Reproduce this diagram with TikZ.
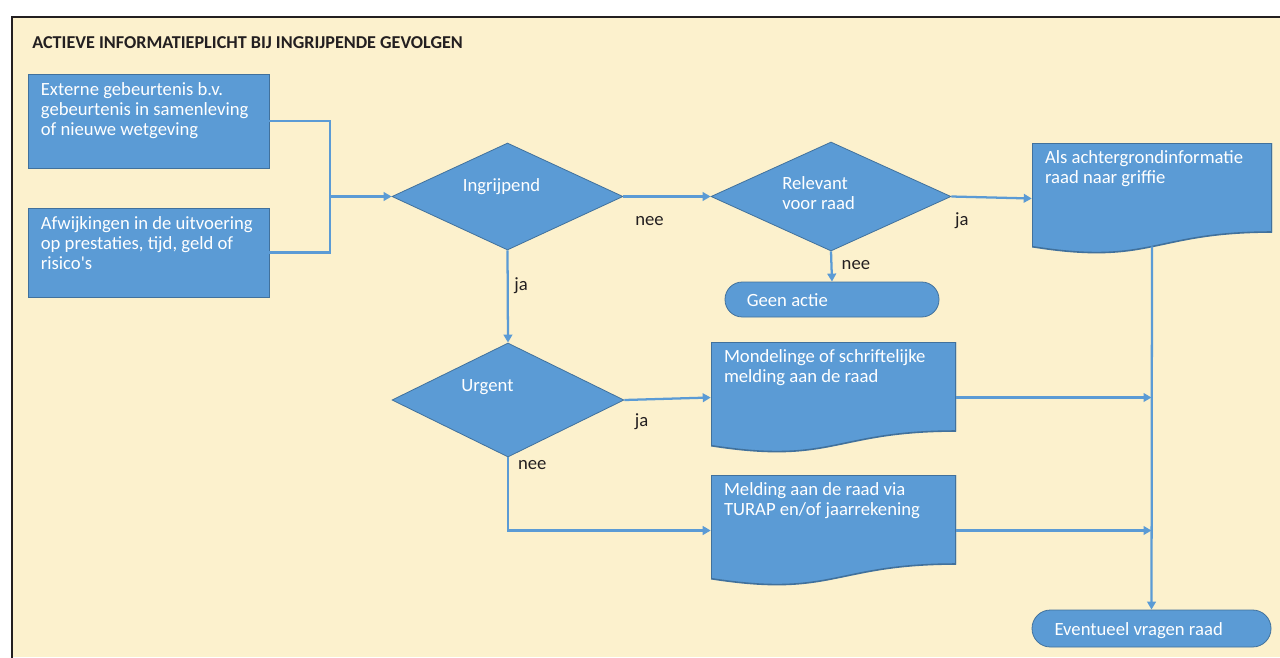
\documentclass[tikz,border=0pt]{standalone}
\usepackage{fontspec}
\setmainfont{Carlito}
\usepackage{tikz}
\usetikzlibrary{calc,arrows.meta,shapes.geometric}
\definecolor{cream}{HTML}{FCF1CD}
\definecolor{boxblue}{HTML}{5B9BD5}
\definecolor{boxedge}{HTML}{41719C}
\definecolor{ink}{HTML}{231F20}

\begin{document}
\begin{tikzpicture}[x=0.75pt,y=-0.75pt,>={Triangle[length=6pt,width=6.5pt]},
  shapebase/.style={fill=boxblue,draw=boxedge,line width=0.6pt,inner sep=0pt},
  proc/.style={shapebase,rectangle,minimum width=180.75pt},
  decision/.style={shapebase,diamond},
  terminal/.style={shapebase,rectangle,rounded corners=13pt},
  doc/.style={rectangle,inner sep=0pt,minimum width=#1,minimum height=83.25pt,
    path picture={
      \path (path picture bounding box.north west) coordinate (nw)
            (path picture bounding box.north east) coordinate (ne)
            (path picture bounding box.south west) coordinate (sw)
            (path picture bounding box.south east) coordinate (se)
            (path picture bounding box.north) coordinate (n)
            (path picture bounding box.south) coordinate (s);
      \draw[fill=boxblue,draw=boxedge,line width=1.2pt] (nw) -- (ne) -- ($(ne)!0.802!(se)$)
        .. controls ($(n)!0.802!(s)$) and ($(n)!1.1075!(s)$) .. ($(nw)!0.934!(sw)$) -- cycle;}},
  intext/.style={text=white,font=\fontsize{14}{14.8}\selectfont,align=flush left,inner sep=0pt,
    text height=10pt,text depth=0pt,execute at begin node={\spaceskip=0pt\xspaceskip=0pt}},
  topleft/.style={intext,text width=200pt,anchor=north west,xshift=9.75pt,yshift=#1},
  flow/.style={boxblue,line width=1.7pt},
  lbl/.style={text=ink,font=\fontsize{14}{16}\selectfont,inner sep=0pt}]
\useasboundingbox (0,0) rectangle (1280,657);
\fill[white] (0,0) rectangle (1280,657);
\fill[cream] (12,17) rectangle (1280,657);
\draw[ink,line width=1.9pt] (12,660) -- (12,17) -- (1283,17);
\node[anchor=base west,inner sep=0pt,text=ink,font=\bfseries\fontsize{13.6}{16}\selectfont]
  (title) at (32,48) {ACTIEVE INFORMATIEPLICHT BIJ INGRIJPENDE GEVOLGEN};

\node[proc,minimum height=70.5pt,
  label={[topleft=-6.5pt]north west:Externe gebeurtenis b.v.\\gebeurtenis in samenleving\\of nieuwe wetgeving}]
  (ext) at (148.5,121) {};
\node[proc,minimum height=66.75pt,
  label={[topleft=-6.5pt]north west:Afwijkingen in de uitvoering\\op prestaties, tijd, geld of\\risico\textquotesingle s}]
  (afw) at (148.5,252.5) {};
\coordinate (jn) at (330,196.5);

\node[decision,minimum width=173.25pt,minimum height=80.25pt,
  label={[intext,xshift=-4.5pt,yshift=9.1pt]center:Ingrijpend}]
  (ingr) at (507.5,196.5) {};
\node[decision,minimum width=180pt,minimum height=81.75pt,
  label={[intext,text width=56pt,xshift=-8.5pt,yshift=9.9pt]center:Relevant\\voor raad}]
  (relev) at (831,196.5) {};
\node[decision,minimum width=174pt,minimum height=85.5pt,
  label={[intext,xshift=-15.4pt,yshift=11.2pt]center:Urgent}]
  (urgent) at (508,400) {};

\node[doc=180pt,label={[topleft=-5.5pt]north west:Als achtergrondinformatie\\raad naar griffie}]
  (achter) at (1152,198.5) {};
\node[doc=183.75pt,label={[topleft=-5.5pt]north west:Mondelinge of schriftelijke\\melding aan de raad}]
  (mond) at (833.5,397.5) {};
\node[doc=183.75pt,label={[topleft=-5.5pt]north west:Melding aan de raad via\\TURAP en/of jaarrekening}]
  (turap) at (833.5,530.5) {};

\node[terminal,minimum width=160.5pt,minimum height=26.25pt,
  label={[intext,anchor=west,xshift=16.5pt]west:Geen actie}]
  (geen) at (832,299.5) {};
\node[terminal,minimum width=179.25pt,minimum height=27.75pt,rounded corners=13.8pt,
  label={[intext,anchor=west,xshift=17pt]west:Eventueel vragen raad}]
  (event) at (1151.5,628.5) {};

\draw[flow] (ext.east) -| (jn);
\draw[flow] (afw.east) -| (jn);
\draw[flow,->] (jn) -- (ingr.west);
\draw[flow,->] (ingr.east) -- node[lbl,anchor=base,pos=0.3,yshift=-21.75pt] (nee1) {nee} (relev.west);
\draw[flow,->] (relev.east) -- node[lbl,anchor=base,pos=0.13,yshift=-21.75pt] (ja1) {ja} (achter.west);
\draw[flow,->] (relev.south) -- node[lbl,anchor=base west,pos=0.6,xshift=6.75pt] (nee2) {nee} (geen.north);
\draw[flow,->] (ingr.south) -- node[lbl,anchor=base west,pos=0.44,xshift=4.1pt] (ja2) {ja} (urgent.north);
\draw[flow,->] (urgent.east) -- node[lbl,anchor=base,pos=0.2,yshift=-19.9pt] (ja3) {ja} (mond.west);
\draw[flow,->] (urgent.south) |- node[lbl,anchor=base west,pos=0.085,xshift=6.75pt] (nee3) {nee} (turap.west);
\draw[flow,->] ($(achter.north)!0.93!(achter.south)$) -- (event.north);
\foreach \n in {mond,turap} {
\draw[flow,->] (\n.east) -- (\n.east -| event.north);
}
\end{tikzpicture}
\end{document}
